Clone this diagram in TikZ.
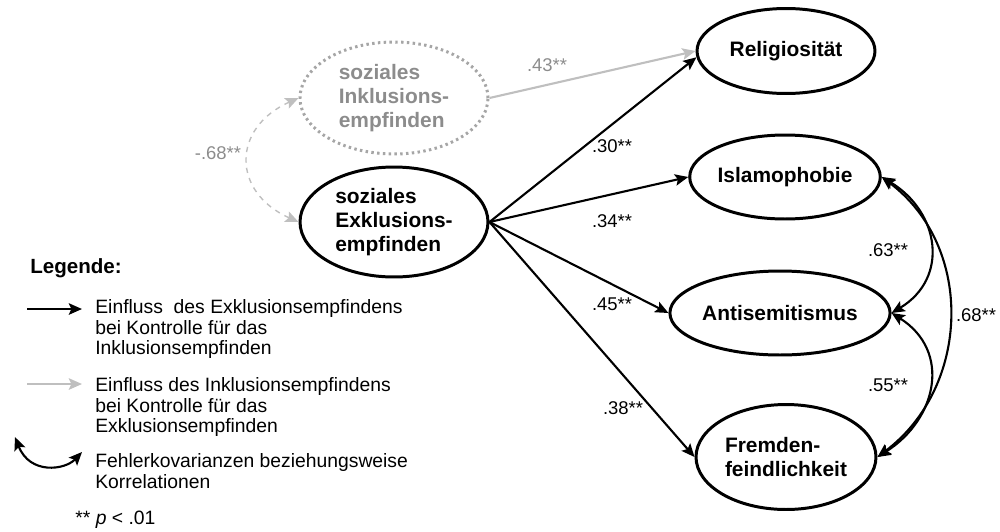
\documentclass[tikz,border=0pt]{standalone}
\usepackage{fontspec}
\setmainfont{Liberation Sans}
\usetikzlibrary{shapes.geometric,arrows.meta}
\definecolor{paleline}{HTML}{BFBFBF}
\definecolor{greytext}{HTML}{8C8C8C}
\definecolor{dotline}{HTML}{A6A6A6}

\begin{document}
\begin{tikzpicture}[x=0.02cm, y=-0.02cm,
  latent/.style={ellipse, draw, line width=1.7pt, inner sep=0pt, align=left,
    font=\fontsize{11.9}{13.5}\selectfont\bfseries},
  effect/.style={line width=1.2pt, -{Stealth[length=7.5pt, width=6.5pt, inset=1.5pt]}},
  greyeffect/.style={effect, draw=paleline, color=paleline},
  cov/.style={line width=1.2pt, {Stealth[length=7.5pt, width=6.5pt, inset=1.5pt]}-{Stealth[length=7.5pt, width=6.5pt, inset=1.5pt]}},
  coef/.style={inner sep=1pt, font=\fontsize{10.5}{12}\selectfont},
  legtext/.style={anchor=west, inner sep=0pt, align=left, font=\fontsize{11}{11.9}\selectfont},
]
  \useasboundingbox (0,0) rectangle (1000,531);

  \node[latent, draw=dotline, text=greytext, dash pattern=on 1.4pt off 1.9pt,
    minimum width=3.76cm, minimum height=2.24cm] (inkl) at (394,98) {soziales\\Inklusions-\\empfinden};
  \node[latent, minimum width=3.76cm, minimum height=2.2cm] (exkl) at (394,222) {soziales\\Exklusions-\\empfinden};

  \node[latent, minimum width=3.56cm, minimum height=1.7cm] (rel) at (786,51) {Religiosität};
  \node[latent, minimum width=3.52cm, minimum height=1.68cm] (islam) at (785,177) {Islamophobie};
  \node[latent, minimum width=3.72cm, minimum height=1.68cm] (anti) at (780,313) {Antisemitismus};
  \node[latent, minimum width=3.6cm, minimum height=2.1cm] (fremd) at (786,457) {Fremden-\\feindlichkeit};

  \draw[greyeffect] (inkl.east) -- (rel.west);
  \draw[effect] (exkl.east) -- (rel.184);
  \draw[effect] (exkl.east) -- (islam.west);
  \draw[effect] (exkl.east) -- (anti.west);
  \draw[effect] (exkl.east) -- (fremd.west);

  \draw[cov, line width=0.8pt, draw=paleline, color=paleline, dashed]
    (inkl.west) .. controls +(-67,30) and +(-67,-30) .. (exkl.west);
  \draw[cov] (islam.east) .. controls +(58,35) and +(58,-35) .. (anti.east);
  \draw[cov] (anti.east) .. controls +(60,38) and +(60,-38) .. (fremd.east);
  \draw[cov] (islam.east) .. controls +(93,70) and +(93,-70) .. (fremd.east);

  \node[coef, text=greytext] (c43) at (547,65) {.43**};
  \node[coef, text=greytext] (c68a) at (218,153) {-.68**};
  \node[coef] (c30) at (612,146) {.30**};
  \node[coef] (c34) at (612,221) {.34**};
  \node[coef] (c45) at (612,304) {.45**};
  \node[coef] (c38) at (623,408) {.38**};
  \node[coef] (c63) at (888,250) {.63**};
  \node[coef] (c55) at (888,385) {.55**};
  \node[coef] (c68b) at (976,315) {.68**};

  % legend
  \node[anchor=west, inner sep=0pt, font=\fontsize{11.7}{13}\selectfont\bfseries] (legtitle) at (30,268) {Legende:};
  \coordinate (la1) at (27,309);
  \coordinate (lb1) at (82,309);
  \draw[effect, line width=1.4pt] (la1) -- (lb1);
  \node[legtext] (leg1) at (95,329) {Einfluss\ \ des Exklusionsempfindens\\bei Kontrolle für das\\Inklusionsempfinden};
  \coordinate (la2) at (27,384);
  \coordinate (lb2) at (82,384);
  \draw[greyeffect, line width=1.4pt] (la2) -- (lb2);
  \node[legtext] (leg2) at (95,407) {Einfluss des Inklusionsempfindens\\bei Kontrolle für das\\Exklusionsempfinden};
  \coordinate (la3) at (15,437);
  \coordinate (lb3) at (82,452);
  \draw[cov] (la3) .. controls (30,475) and (65,470) .. (lb3);
  \node[legtext] (leg3) at (95,471.5) {Fehlerkovarianzen beziehungsweise\\Korrelationen};
  \node[legtext] (legp) at (75,520) {** \textit{p} < .01};
\end{tikzpicture}
\end{document}
